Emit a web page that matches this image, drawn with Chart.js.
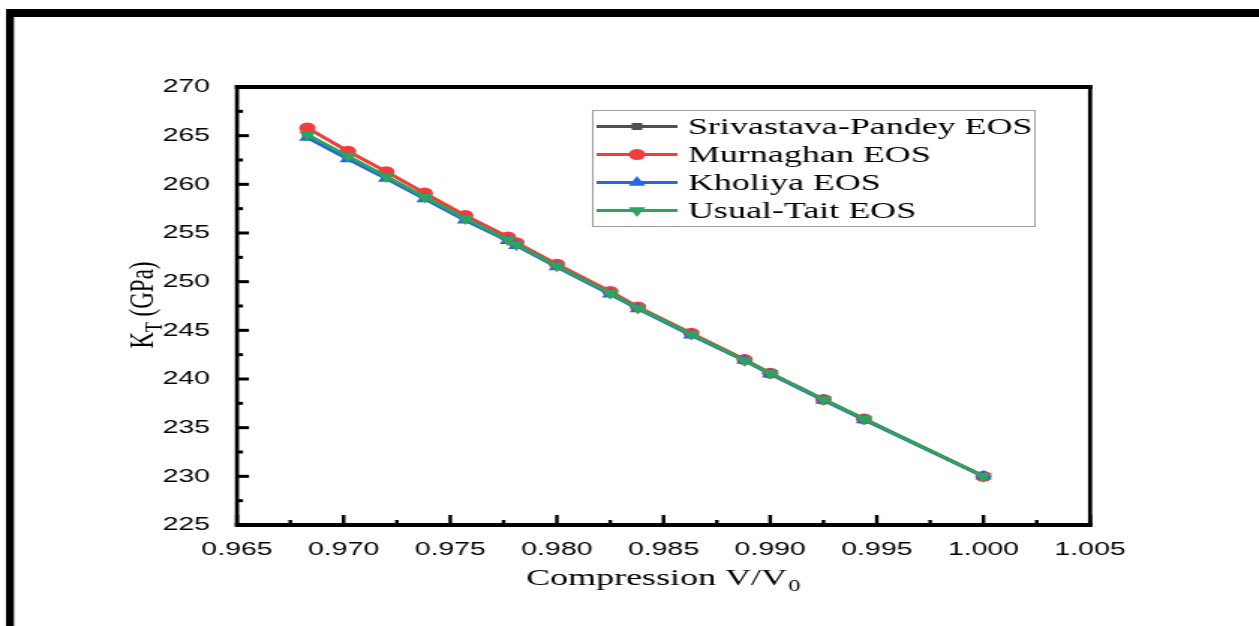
<!DOCTYPE html>
<html>
<head>
<meta charset="utf-8">
<script src="https://cdn.jsdelivr.net/npm/chart.js@4"></script>
<style>
  html, body { margin: 0; padding: 0; background: #fff; overflow: hidden; }
  /* the source figure is stretched sideways, so the chart is drawn narrow and scaled */
  #wrap { width: 840px; height: 626px; position: relative;
          transform: scaleX(1.49881); transform-origin: 0 0; }
</style>
</head>
<body>
<div id="wrap"><canvas id="kChart"></canvas></div>
<script>
// ─── Data ───
const compression = [0.9683, 0.9702, 0.9720, 0.9738, 0.9757, 0.9777, 0.9781, 0.9800,
                     0.9825, 0.9838, 0.9863, 0.9888, 0.9900, 0.9925, 0.9944, 1.0000];
const srivastavaPandey = [265.0, 262.8, 260.7, 258.6, 256.4, 254.3, 253.8, 251.6,
                          248.8, 247.3, 244.6, 241.9, 240.6, 237.9, 235.9, 230.0];
const murnaghan = [265.8, 263.4, 261.3, 259.1, 256.8, 254.6, 254.0, 251.8,
                   249.0, 247.4, 244.7, 242.0, 240.6, 237.9, 235.9, 230.0];
const kholiya = [264.8, 262.6, 260.6, 258.5, 256.3, 254.2, 253.7, 251.5,
                 248.7, 247.2, 244.5, 241.9, 240.5, 237.8, 235.8, 230.0];
const usualTait = [265.1, 262.9, 260.8, 258.7, 256.5, 254.3, 253.8, 251.6,
                   248.8, 247.3, 244.6, 241.9, 240.6, 237.9, 235.9, 230.0];
const seriesNames = ['Srivastava-Pandey EOS', 'Murnaghan EOS', 'Kholiya EOS', 'Usual-Tait EOS'];
const xTicks = [0.965, 0.970, 0.975, 0.980, 0.985, 0.990, 0.995, 1.000, 1.005];
const yTicks = [225, 230, 235, 240, 245, 250, 255, 260, 265, 270];

const toPoints = ys => compression.map((x, i) => ({ x, y: ys[i] }));

const styles = [
    { color: '#505050', point: 'rect', rot: 0, r: 5 },
    { color: '#f23d3d', point: 'circle', rot: 0, r: 5.5 },
    { color: '#2268e6', point: 'triangle', rot: 0, r: 6.5 },
    { color: '#2ea35e', point: 'triangle', rot: 180, r: 6.5 }
];
const allSeries = [srivastavaPandey, murnaghan, kholiya, usualTait];

const datasets = allSeries.map((ys, i) => ({
    label: seriesNames[i],
    data: toPoints(ys),
    order: allSeries.length - i,   // last series on top
    borderColor: styles[i].color,
    backgroundColor: styles[i].color,
    borderWidth: 3,
    pointStyle: styles[i].point,
    rotation: styles[i].rot,
    pointRadius: styles[i].r,
    pointBorderWidth: 0,
    tension: 0
}));

const SERIF = '"Liberation Serif", "DejaVu Serif", serif';
const SANS = '"Liberation Sans", Arial, sans-serif';

// ─── frame, inward ticks, titles, legend ───
const decorPlugin = {
    id: 'decor',
    beforeDraw(chart) {
        const c = chart.ctx;
        c.save();
        c.fillStyle = '#fff';
        c.fillRect(0, 0, chart.width, chart.height);
        c.fillStyle = '#000';
        c.fillRect(4, 9, chart.width - 4, 8);
        c.fillRect(4, 9, 5.3, chart.height - 9);
        c.restore();
    },
    afterDraw(chart) {
        const c = chart.ctx;
        const a = chart.chartArea;
        const xs = chart.scales.x, ys = chart.scales.y;
        c.save();
        c.fillStyle = '#000';
        // frame: horizontal edges 4px, vertical edges 2.7px (stretched later)
        c.fillRect(a.left - 1.35, a.top - 2, a.right - a.left + 2.7, 4);
        c.fillRect(a.left - 1.35, a.bottom - 2, a.right - a.left + 2.7, 4);
        c.fillRect(a.left - 1.35, a.top - 2, 2.7, a.bottom - a.top + 4);
        c.fillRect(a.right - 1.35, a.top - 2, 2.7, a.bottom - a.top + 4);

        // ticks (major + minor) pointing inward
        xTicks.forEach((v, i) => {
            const px = xs.getPixelForValue(v);
            c.fillRect(px - 1.2, a.bottom - 10, 2.4, 10);
            if (i < xTicks.length - 1) {
                const mx = xs.getPixelForValue((v + xTicks[i + 1]) / 2);
                c.fillRect(mx - 1.2, a.bottom - 5, 2.4, 5);
            }
        });
        yTicks.forEach((v, i) => {
            const py = ys.getPixelForValue(v);
            c.fillRect(a.left, py - 1.5, 8, 3);
            if (i < yTicks.length - 1) {
                const my = ys.getPixelForValue((v + yTicks[i + 1]) / 2);
                c.fillRect(a.left, my - 1.5, 4, 3);
            }
        });

        // x title with subscript
        c.textBaseline = 'alphabetic';
        c.font = '24px ' + SERIF;
        const main = 'Compression V/V';
        const wMain = c.measureText(main).width;
        c.font = '16px ' + SERIF;
        const wSub = c.measureText('0').width;
        const sx = 442 - (wMain + wSub) / 2;
        c.font = '24px ' + SERIF;
        c.fillText(main, sx, 585);
        c.font = '16px ' + SERIF;
        c.fillText('0', sx + wMain + 1, 591);

        // y title rotated
        c.save();
        c.translate(102, 305);
        c.rotate(-Math.PI / 2);
        c.font = '23px ' + SERIF;
        const wK = c.measureText('K').width;
        const wR = c.measureText(' (GPa)').width;
        c.font = '16px ' + SERIF;
        const wT = c.measureText('T').width;
        const tx = -(wK + wT + wR) / 2;
        c.font = '23px ' + SERIF;
        c.fillText('K', tx, 0);
        c.font = '16px ' + SERIF;
        c.fillText('T', tx + wK, 6);
        c.font = '23px ' + SERIF;
        c.fillText(' (GPa)', tx + wK + wT, 0);
        c.restore();

        // legend
        const lx = 395, ly = 110, lw = 295, lh = 116;
        c.lineWidth = 1;
        c.strokeStyle = '#a0a0a0';
        c.strokeRect(lx + 0.5, ly + 0.5, lw, lh);
        chart.data.datasets.forEach((ds, i) => {
            const cy = ly + 16.5 + i * 28;
            c.strokeStyle = ds.borderColor;
            c.fillStyle = ds.borderColor;
            c.lineWidth = 3;
            c.beginPath();
            c.moveTo(lx + 3, cy); c.lineTo(lx + 57, cy);
            c.stroke();
            Chart.helpers.drawPoint(c, {
                pointStyle: ds.pointStyle, rotation: ds.rotation,
                radius: ds.pointRadius, borderWidth: 0
            }, lx + 30, cy);
            c.fillStyle = '#000';
            c.font = '24px ' + SERIF;
            c.textBaseline = 'middle';
            c.fillText(ds.label, lx + 64, cy + 1);
        });
        c.restore();
    }
};

new Chart(document.getElementById('kChart').getContext('2d'), {
    type: 'line',
    data: { datasets },
    options: {
        responsive: true,
        maintainAspectRatio: false,
        animation: false,
        layout: { padding: { left: 0, top: 87, right: 112.7, bottom: 41 } },
        plugins: { legend: { display: false }, tooltip: { enabled: false } },
        scales: {
            x: {
                type: 'linear',
                min: 0.965, max: 1.005,
                afterBuildTicks: s => { s.ticks = xTicks.map(v => ({ value: v })); },
                afterFit: s => { s.height = 60; },
                grid: { display: false },
                border: { display: false },
                ticks: {
                    padding: 5,
                    color: '#000',
                    font: { family: SANS, size: 19 },
                    maxRotation: 0,
                    callback: v => v.toFixed(3)
                }
            },
            y: {
                min: 225, max: 270,
                afterBuildTicks: s => { s.ticks = yTicks.map(v => ({ value: v })); },
                afterFit: s => { s.width = 158.1; },
                grid: { display: false },
                border: { display: false },
                ticks: {
                    padding: 10,
                    color: '#000',
                    font: { family: SANS, size: 19 },
                    callback: v => String(v)
                }
            }
        }
    },
    plugins: [decorPlugin]
});
</script>
</body>
</html>
